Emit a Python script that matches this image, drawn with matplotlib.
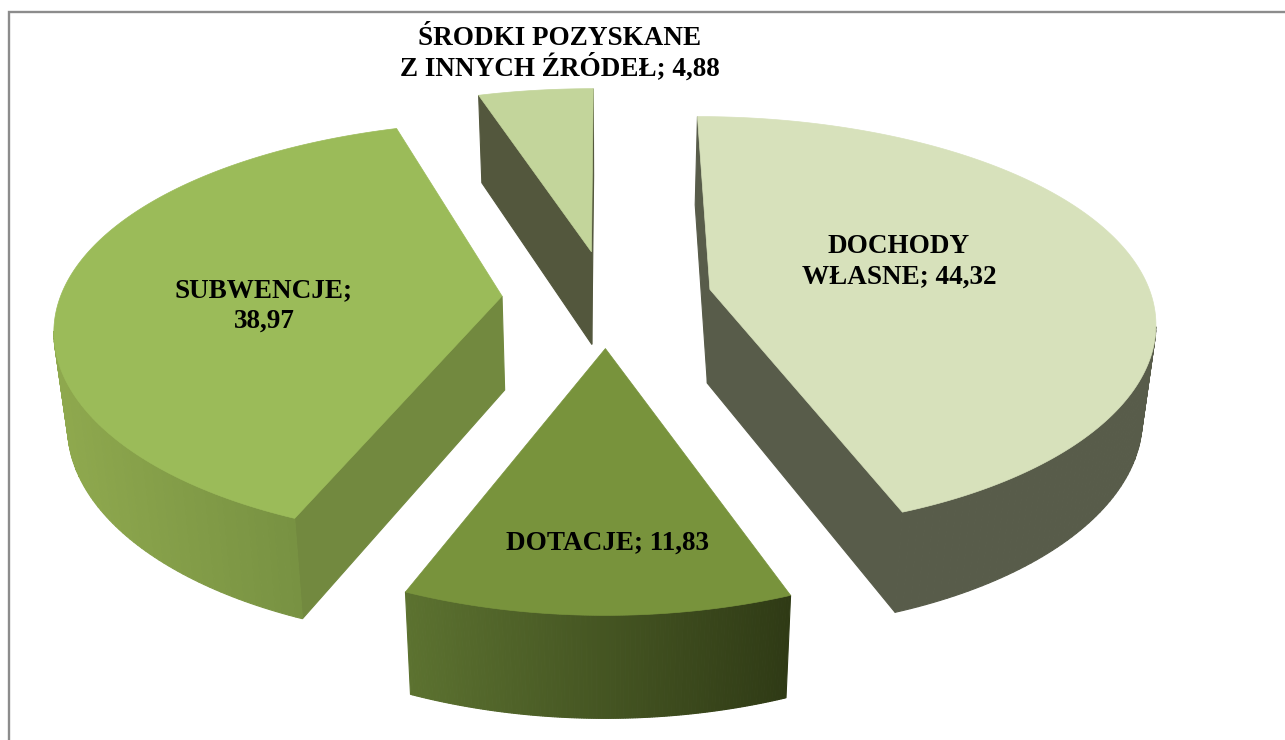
import numpy as np
import matplotlib
matplotlib.use("Agg")
import matplotlib.pyplot as plt
from matplotlib.colors import to_rgb

# clockwise from the top
labels = ["DOCHODY\nWŁASNE", "DOTACJE", "SUBWENCJE", "ŚRODKI POZYSKANE\nZ INNYCH ŹRÓDEŁ"]
values = [44.32, 11.83, 38.97, 4.88]
separators = ["; ", "; ", ";\n", "; "]

top_colors = ["#d7e1bb", "#78933c", "#9bbb59", "#c3d59b"]
edge_colors = ["#585c4a", "#465522", "#72893f", "#53573d"]
arc_left = ["#585c4a", "#5c7230", "#8fa94e", "#53573d"]
arc_right = ["#585c4a", "#2f3a15", "#6e883d", "#53573d"]
# centre of the text and baseline of its first line
label_x = [899, 607.5, 264, 560]
label_y = [253, 550, 297, 45]
line_pitch = 31

start_angle = 0.0
explode = 0.238
cx, cy = 607.0, 298.0
rx, ry = 442.0, 204.0
persp = 0.165
depth = 94.0
shrink = 0.975


def project(x, y):
    w = 1 + persp * y
    return cx + rx * x / w**0.85, cy - ry * y / w, w


def bottom(px, py, w):
    return cx + (px - cx) * shrink, py + depth / w**0.4


def add_quad(ax, p, q, color):
    # only faces turned towards the viewer, going clockwise on screen
    if q[0] >= p[0]:
        return
    b_p, b_q = bottom(*p), bottom(*q)
    ax.fill([p[0], q[0], b_q[0], b_p[0]], [p[1], q[1], b_q[1], b_p[1]],
            color=color, lw=0.8, zorder=2 + (p[1] + q[1]) / 4000)


fig = plt.figure(figsize=(12.85, 7.4), dpi=100)
ax = fig.add_axes([0, 0, 1, 1])
ax.set_xlim(0, 1285)
ax.set_ylim(740, 0)
ax.axis("off")

# frame, cut off by the image on the right and at the bottom
ax.plot([9, 9, 1285], [740, 12, 12], color="#8c8c8c", lw=1.7, solid_joinstyle="miter")

total = sum(values)
angle = start_angle
for i, value in enumerate(values):
    sweep = value / total * 360
    mid = np.radians(angle + sweep / 2)
    ox, oy = explode * np.sin(mid), explode * np.cos(mid)
    theta = np.radians(np.linspace(angle, angle + sweep, 160))
    apex = project(ox, oy)
    arc = [project(ox + np.sin(t), oy + np.cos(t)) for t in theta]

    arc_xs = [p[0] for p in arc]
    span = max(arc_xs) - min(arc_xs)
    c0, c1 = np.array(to_rgb(arc_left[i])), np.array(to_rgb(arc_right[i]))
    for p, q in zip(arc[:-1], arc[1:]):
        f = ((p[0] + q[0]) / 2 - min(arc_xs)) / span
        add_quad(ax, p, q, tuple(c0 + (c1 - c0) * f))
    add_quad(ax, apex, arc[0], edge_colors[i])
    add_quad(ax, arc[-1], apex, edge_colors[i])

    ax.fill([apex[0], *arc_xs], [apex[1], *[p[1] for p in arc]],
            color=top_colors[i], lw=0.5, zorder=3)

    text = f"{labels[i]}{separators[i]}{value:.2f}".replace(".", ",")
    # one text per line, accents would otherwise change the line height
    for n, line in enumerate(text.split("\n")):
        ax.text(label_x[i], label_y[i] + n * line_pitch, line, ha="center", va="baseline",
                zorder=4, family="Liberation Serif", weight="bold", fontsize=19.5, color="black")
    angle += sweep

fig.savefig("out.png", dpi=100)
